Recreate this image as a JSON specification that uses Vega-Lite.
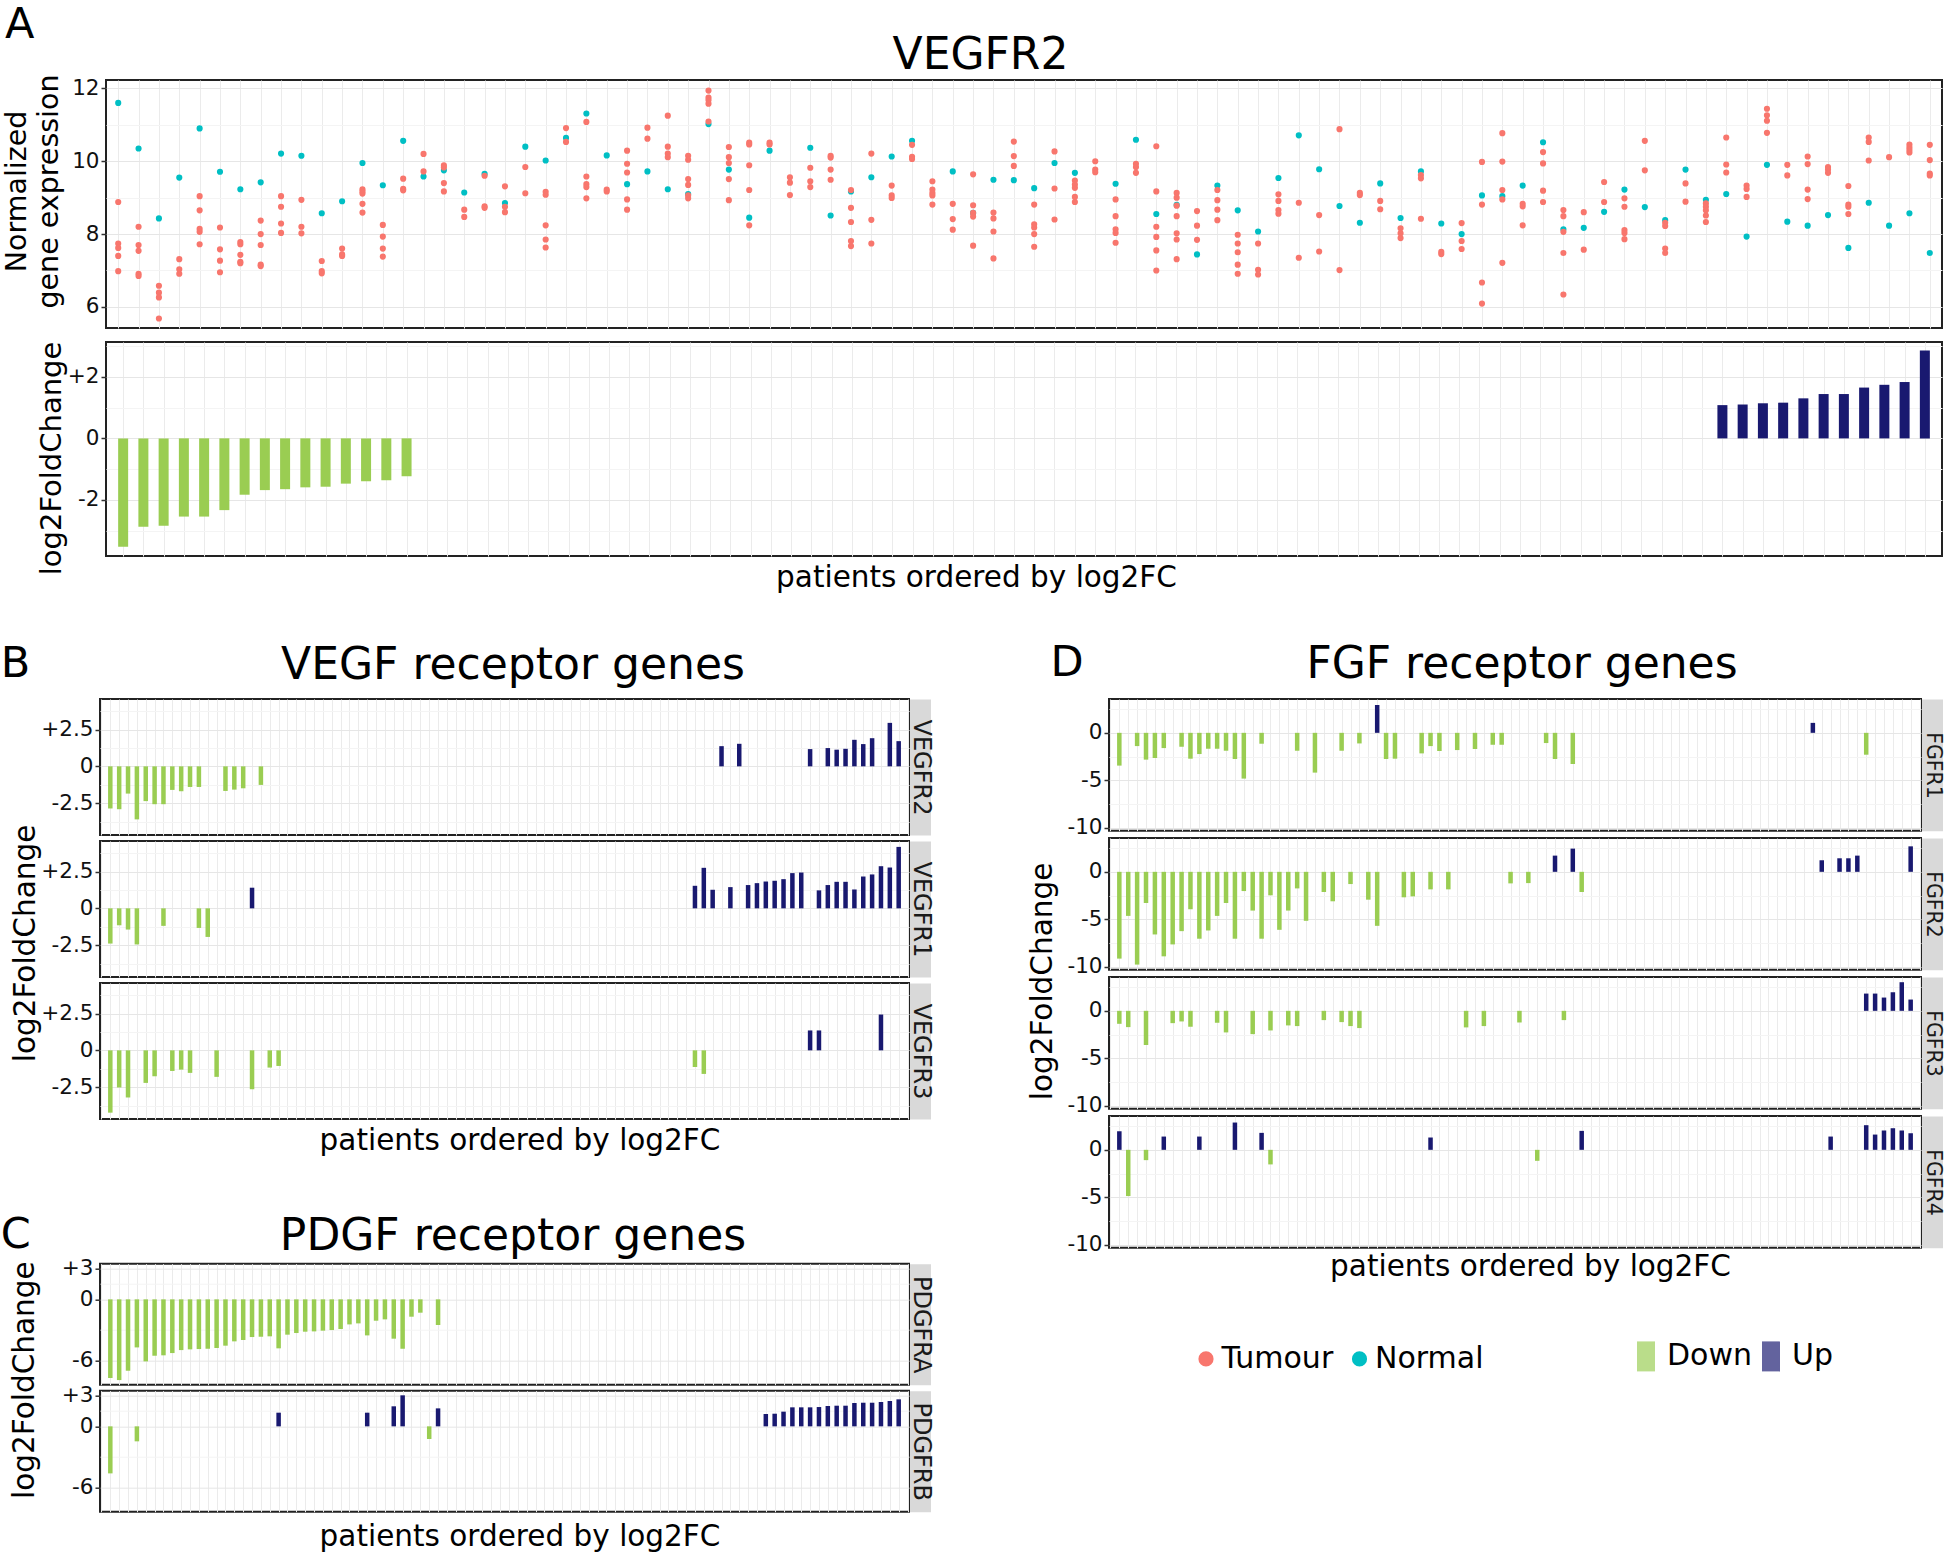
{
  "$schema": "https://vega.github.io/schema/vega-lite/v6.json",
  "padding": {"left": 0, "top": 4, "right": 0, "bottom": 0},
  "background": "white",
  "config": {
    "font": "DejaVu Sans",
    "view": {"stroke": "#222222", "strokeWidth": 2},
    "axis": {"labelFont": "DejaVu Sans", "labelFontSize": 21.5, "labelColor": "#111111", "titleFont": "DejaVu Sans", "titleFontWeight": "normal", "titleColor": "#000000", "tickColor": "#333333", "tickSize": 5, "tickWidth": 1.5, "labelPadding": 2, "domain": false, "gridWidth": 1, "labelOverlap": false, "labelBound": false},
    "title": {"font": "DejaVu Sans", "fontWeight": "normal", "color": "#000000", "baseline": "alphabetic"}
  },
  "datasets": {
    "expr": [
      {"p":1,"grp":"Normal","v":11.6},{"p":2,"grp":"Normal","v":10.35},{"p":3,"grp":"Normal","v":8.43},{"p":4,"grp":"Normal","v":9.55},{"p":5,"grp":"Normal","v":10.9},{"p":6,"grp":"Normal","v":9.71},{"p":7,"grp":"Normal","v":9.23},{"p":8,"grp":"Normal","v":9.42},{"p":9,"grp":"Normal","v":10.21},{"p":10,"grp":"Normal","v":10.15},
      {"p":11,"grp":"Normal","v":8.57},{"p":12,"grp":"Normal","v":8.9},{"p":13,"grp":"Normal","v":9.95},{"p":14,"grp":"Normal","v":9.34},{"p":15,"grp":"Normal","v":10.56},{"p":16,"grp":"Normal","v":9.58},{"p":17,"grp":"Normal","v":9.75},{"p":18,"grp":"Normal","v":9.14},{"p":19,"grp":"Normal","v":9.65},{"p":20,"grp":"Normal","v":8.85},
      {"p":21,"grp":"Normal","v":10.4},{"p":22,"grp":"Normal","v":10.02},{"p":23,"grp":"Normal","v":10.64},{"p":24,"grp":"Normal","v":11.31},{"p":25,"grp":"Normal","v":10.16},{"p":26,"grp":"Normal","v":9.37},{"p":27,"grp":"Normal","v":9.72},{"p":28,"grp":"Normal","v":9.23},{"p":29,"grp":"Normal","v":9.1},{"p":30,"grp":"Normal","v":11.02},
      {"p":31,"grp":"Normal","v":9.77},{"p":32,"grp":"Normal","v":8.45},{"p":33,"grp":"Normal","v":10.29},{"p":35,"grp":"Normal","v":10.37},{"p":36,"grp":"Normal","v":8.51},{"p":37,"grp":"Normal","v":9.17},{"p":38,"grp":"Normal","v":9.56},{"p":39,"grp":"Normal","v":10.13},{"p":40,"grp":"Normal","v":10.56},
      {"p":42,"grp":"Normal","v":9.72},{"p":43,"grp":"Normal","v":8.58},{"p":44,"grp":"Normal","v":9.49},{"p":45,"grp":"Normal","v":9.48},{"p":46,"grp":"Normal","v":9.26},{"p":47,"grp":"Normal","v":9.95},{"p":48,"grp":"Normal","v":9.68},{"p":50,"grp":"Normal","v":9.38},
      {"p":51,"grp":"Normal","v":10.59},{"p":52,"grp":"Normal","v":8.55},{"p":53,"grp":"Normal","v":8.8},{"p":54,"grp":"Normal","v":7.44},{"p":55,"grp":"Normal","v":9.33},{"p":56,"grp":"Normal","v":8.65},{"p":57,"grp":"Normal","v":8.07},{"p":58,"grp":"Normal","v":9.54},{"p":59,"grp":"Normal","v":10.71},{"p":60,"grp":"Normal","v":9.78},
      {"p":61,"grp":"Normal","v":8.77},{"p":62,"grp":"Normal","v":8.31},{"p":63,"grp":"Normal","v":9.39},{"p":64,"grp":"Normal","v":8.44},{"p":65,"grp":"Normal","v":9.72},{"p":66,"grp":"Normal","v":8.29},{"p":67,"grp":"Normal","v":8.0},{"p":68,"grp":"Normal","v":9.06},{"p":69,"grp":"Normal","v":9.04},{"p":70,"grp":"Normal","v":9.33},
      {"p":71,"grp":"Normal","v":10.52},{"p":72,"grp":"Normal","v":8.13},{"p":73,"grp":"Normal","v":8.17},{"p":74,"grp":"Normal","v":8.61},{"p":75,"grp":"Normal","v":9.22},{"p":76,"grp":"Normal","v":8.74},{"p":77,"grp":"Normal","v":8.38},{"p":78,"grp":"Normal","v":9.77},{"p":79,"grp":"Normal","v":8.94},{"p":80,"grp":"Normal","v":9.1},
      {"p":81,"grp":"Normal","v":7.93},{"p":82,"grp":"Normal","v":9.9},{"p":83,"grp":"Normal","v":8.34},{"p":84,"grp":"Normal","v":8.23},{"p":85,"grp":"Normal","v":8.52},{"p":86,"grp":"Normal","v":7.62},{"p":87,"grp":"Normal","v":8.86},{"p":88,"grp":"Normal","v":8.23},{"p":89,"grp":"Normal","v":8.57},{"p":90,"grp":"Normal","v":7.48},
      {"p":1,"grp":"Tumour","v":8.88},{"p":1,"grp":"Tumour","v":7.74},{"p":1,"grp":"Tumour","v":7.62},{"p":1,"grp":"Tumour","v":7.4},{"p":1,"grp":"Tumour","v":6.98},
      {"p":2,"grp":"Tumour","v":8.2},{"p":2,"grp":"Tumour","v":7.7},{"p":2,"grp":"Tumour","v":7.54},{"p":2,"grp":"Tumour","v":6.91},{"p":2,"grp":"Tumour","v":6.85},
      {"p":3,"grp":"Tumour","v":6.58},{"p":3,"grp":"Tumour","v":6.39},{"p":3,"grp":"Tumour","v":6.26},{"p":3,"grp":"Tumour","v":5.68},
      {"p":4,"grp":"Tumour","v":7.31},{"p":4,"grp":"Tumour","v":7.03},{"p":4,"grp":"Tumour","v":6.91},
      {"p":5,"grp":"Tumour","v":9.04},{"p":5,"grp":"Tumour","v":8.65},{"p":5,"grp":"Tumour","v":8.14},{"p":5,"grp":"Tumour","v":8.06},{"p":5,"grp":"Tumour","v":7.72},
      {"p":6,"grp":"Tumour","v":8.18},{"p":6,"grp":"Tumour","v":7.58},{"p":6,"grp":"Tumour","v":7.27},{"p":6,"grp":"Tumour","v":6.95},
      {"p":7,"grp":"Tumour","v":7.78},{"p":7,"grp":"Tumour","v":7.72},{"p":7,"grp":"Tumour","v":7.43},{"p":7,"grp":"Tumour","v":7.24},{"p":7,"grp":"Tumour","v":7.2},
      {"p":8,"grp":"Tumour","v":8.37},{"p":8,"grp":"Tumour","v":8.0},{"p":8,"grp":"Tumour","v":7.7},{"p":8,"grp":"Tumour","v":7.16},{"p":8,"grp":"Tumour","v":7.12},
      {"p":9,"grp":"Tumour","v":9.04},{"p":9,"grp":"Tumour","v":8.75},{"p":9,"grp":"Tumour","v":8.29},{"p":9,"grp":"Tumour","v":8.03},
      {"p":10,"grp":"Tumour","v":8.94},{"p":10,"grp":"Tumour","v":8.2},{"p":10,"grp":"Tumour","v":8.02},
      {"p":11,"grp":"Tumour","v":7.26},{"p":11,"grp":"Tumour","v":6.98},{"p":11,"grp":"Tumour","v":6.92},
      {"p":12,"grp":"Tumour","v":7.6},{"p":12,"grp":"Tumour","v":7.44},{"p":12,"grp":"Tumour","v":7.4},
      {"p":13,"grp":"Tumour","v":9.23},{"p":13,"grp":"Tumour","v":9.17},{"p":13,"grp":"Tumour","v":9.11},{"p":13,"grp":"Tumour","v":8.83},{"p":13,"grp":"Tumour","v":8.59},
      {"p":14,"grp":"Tumour","v":8.25},{"p":14,"grp":"Tumour","v":7.93},{"p":14,"grp":"Tumour","v":7.6},{"p":14,"grp":"Tumour","v":7.38},
      {"p":15,"grp":"Tumour","v":9.52},{"p":15,"grp":"Tumour","v":9.24},{"p":15,"grp":"Tumour","v":9.2},
      {"p":16,"grp":"Tumour","v":10.2},{"p":16,"grp":"Tumour","v":9.72},
      {"p":17,"grp":"Tumour","v":9.89},{"p":17,"grp":"Tumour","v":9.83},{"p":17,"grp":"Tumour","v":9.4},{"p":17,"grp":"Tumour","v":9.17},
      {"p":18,"grp":"Tumour","v":8.67},{"p":18,"grp":"Tumour","v":8.47},
      {"p":19,"grp":"Tumour","v":9.6},{"p":19,"grp":"Tumour","v":8.76},{"p":19,"grp":"Tumour","v":8.72},
      {"p":20,"grp":"Tumour","v":9.31},{"p":20,"grp":"Tumour","v":8.75},{"p":20,"grp":"Tumour","v":8.6},
      {"p":21,"grp":"Tumour","v":9.84},{"p":21,"grp":"Tumour","v":9.12},
      {"p":22,"grp":"Tumour","v":9.16},{"p":22,"grp":"Tumour","v":9.08},{"p":22,"grp":"Tumour","v":8.24},{"p":22,"grp":"Tumour","v":7.85},{"p":22,"grp":"Tumour","v":7.63},
      {"p":23,"grp":"Tumour","v":10.91},{"p":23,"grp":"Tumour","v":10.53},
      {"p":24,"grp":"Tumour","v":11.08},{"p":24,"grp":"Tumour","v":9.58},{"p":24,"grp":"Tumour","v":9.37},{"p":24,"grp":"Tumour","v":9.29},{"p":24,"grp":"Tumour","v":8.98},
      {"p":25,"grp":"Tumour","v":9.22},{"p":25,"grp":"Tumour","v":9.17},
      {"p":26,"grp":"Tumour","v":10.29},{"p":26,"grp":"Tumour","v":9.93},{"p":26,"grp":"Tumour","v":9.69},{"p":26,"grp":"Tumour","v":8.95},{"p":26,"grp":"Tumour","v":8.67},
      {"p":27,"grp":"Tumour","v":10.92},{"p":27,"grp":"Tumour","v":10.62},
      {"p":28,"grp":"Tumour","v":11.25},{"p":28,"grp":"Tumour","v":10.4},{"p":28,"grp":"Tumour","v":10.21},{"p":28,"grp":"Tumour","v":10.11},
      {"p":29,"grp":"Tumour","v":10.15},{"p":29,"grp":"Tumour","v":10.04},{"p":29,"grp":"Tumour","v":9.51},{"p":29,"grp":"Tumour","v":9.35},{"p":29,"grp":"Tumour","v":9.06},{"p":29,"grp":"Tumour","v":8.98},
      {"p":30,"grp":"Tumour","v":11.94},{"p":30,"grp":"Tumour","v":11.75},{"p":30,"grp":"Tumour","v":11.68},{"p":30,"grp":"Tumour","v":11.58},{"p":30,"grp":"Tumour","v":11.09},
      {"p":31,"grp":"Tumour","v":10.39},{"p":31,"grp":"Tumour","v":10.11},{"p":31,"grp":"Tumour","v":9.95},{"p":31,"grp":"Tumour","v":9.51},{"p":31,"grp":"Tumour","v":8.93},
      {"p":32,"grp":"Tumour","v":10.51},{"p":32,"grp":"Tumour","v":10.46},{"p":32,"grp":"Tumour","v":9.89},{"p":32,"grp":"Tumour","v":9.21},{"p":32,"grp":"Tumour","v":8.24},
      {"p":33,"grp":"Tumour","v":10.51},{"p":33,"grp":"Tumour","v":10.46},
      {"p":34,"grp":"Tumour","v":9.56},{"p":34,"grp":"Tumour","v":9.41},{"p":34,"grp":"Tumour","v":9.07},
      {"p":35,"grp":"Tumour","v":9.82},{"p":35,"grp":"Tumour","v":9.45},{"p":35,"grp":"Tumour","v":9.29},
      {"p":36,"grp":"Tumour","v":10.15},{"p":36,"grp":"Tumour","v":10.1},{"p":36,"grp":"Tumour","v":9.77},{"p":36,"grp":"Tumour","v":9.49},
      {"p":37,"grp":"Tumour","v":9.21},{"p":37,"grp":"Tumour","v":8.72},{"p":37,"grp":"Tumour","v":8.33},{"p":37,"grp":"Tumour","v":7.81},{"p":37,"grp":"Tumour","v":7.67},
      {"p":38,"grp":"Tumour","v":10.21},{"p":38,"grp":"Tumour","v":8.39},{"p":38,"grp":"Tumour","v":7.74},
      {"p":39,"grp":"Tumour","v":9.33},{"p":39,"grp":"Tumour","v":9.06},{"p":39,"grp":"Tumour","v":8.99},
      {"p":40,"grp":"Tumour","v":10.45},{"p":40,"grp":"Tumour","v":10.12},{"p":40,"grp":"Tumour","v":10.06},
      {"p":41,"grp":"Tumour","v":9.45},{"p":41,"grp":"Tumour","v":9.22},{"p":41,"grp":"Tumour","v":9.13},{"p":41,"grp":"Tumour","v":9.06},{"p":41,"grp":"Tumour","v":8.81},
      {"p":42,"grp":"Tumour","v":8.83},{"p":42,"grp":"Tumour","v":8.41},{"p":42,"grp":"Tumour","v":8.12},
      {"p":43,"grp":"Tumour","v":9.64},{"p":43,"grp":"Tumour","v":8.79},{"p":43,"grp":"Tumour","v":8.58},{"p":43,"grp":"Tumour","v":8.48},{"p":43,"grp":"Tumour","v":7.68},
      {"p":44,"grp":"Tumour","v":8.59},{"p":44,"grp":"Tumour","v":8.43},{"p":44,"grp":"Tumour","v":8.07},{"p":44,"grp":"Tumour","v":7.33},
      {"p":45,"grp":"Tumour","v":10.54},{"p":45,"grp":"Tumour","v":10.14},{"p":45,"grp":"Tumour","v":9.87},
      {"p":46,"grp":"Tumour","v":8.81},{"p":46,"grp":"Tumour","v":8.27},{"p":46,"grp":"Tumour","v":8.18},{"p":46,"grp":"Tumour","v":8.0},{"p":46,"grp":"Tumour","v":7.65},
      {"p":47,"grp":"Tumour","v":10.27},{"p":47,"grp":"Tumour","v":9.25},{"p":47,"grp":"Tumour","v":8.4},
      {"p":48,"grp":"Tumour","v":9.47},{"p":48,"grp":"Tumour","v":9.36},{"p":48,"grp":"Tumour","v":9.27},{"p":48,"grp":"Tumour","v":9.02},{"p":48,"grp":"Tumour","v":8.88},
      {"p":49,"grp":"Tumour","v":10.0},{"p":49,"grp":"Tumour","v":9.77},{"p":49,"grp":"Tumour","v":9.7},
      {"p":50,"grp":"Tumour","v":8.95},{"p":50,"grp":"Tumour","v":8.49},{"p":50,"grp":"Tumour","v":8.13},{"p":50,"grp":"Tumour","v":8.03},{"p":50,"grp":"Tumour","v":7.76},
      {"p":51,"grp":"Tumour","v":9.93},{"p":51,"grp":"Tumour","v":9.84},{"p":51,"grp":"Tumour","v":9.68},
      {"p":52,"grp":"Tumour","v":10.41},{"p":52,"grp":"Tumour","v":9.17},{"p":52,"grp":"Tumour","v":8.2},{"p":52,"grp":"Tumour","v":7.92},{"p":52,"grp":"Tumour","v":7.55},{"p":52,"grp":"Tumour","v":7.0},
      {"p":53,"grp":"Tumour","v":9.13},{"p":53,"grp":"Tumour","v":9.0},{"p":53,"grp":"Tumour","v":8.78},{"p":53,"grp":"Tumour","v":8.49},{"p":53,"grp":"Tumour","v":8.02},{"p":53,"grp":"Tumour","v":7.85},{"p":53,"grp":"Tumour","v":7.31},
      {"p":54,"grp":"Tumour","v":8.63},{"p":54,"grp":"Tumour","v":8.23},{"p":54,"grp":"Tumour","v":7.84},
      {"p":55,"grp":"Tumour","v":9.21},{"p":55,"grp":"Tumour","v":8.93},{"p":55,"grp":"Tumour","v":8.67},{"p":55,"grp":"Tumour","v":8.38},
      {"p":56,"grp":"Tumour","v":7.98},{"p":56,"grp":"Tumour","v":7.74},{"p":56,"grp":"Tumour","v":7.5},{"p":56,"grp":"Tumour","v":7.16},{"p":56,"grp":"Tumour","v":6.91},
      {"p":57,"grp":"Tumour","v":7.74},{"p":57,"grp":"Tumour","v":7.02},{"p":57,"grp":"Tumour","v":6.89},
      {"p":58,"grp":"Tumour","v":9.09},{"p":58,"grp":"Tumour","v":8.91},{"p":58,"grp":"Tumour","v":8.66},{"p":58,"grp":"Tumour","v":8.56},
      {"p":59,"grp":"Tumour","v":8.86},{"p":59,"grp":"Tumour","v":7.35},
      {"p":60,"grp":"Tumour","v":8.52},{"p":60,"grp":"Tumour","v":7.52},
      {"p":61,"grp":"Tumour","v":10.88},{"p":61,"grp":"Tumour","v":7.01},
      {"p":62,"grp":"Tumour","v":9.13},{"p":62,"grp":"Tumour","v":9.07},
      {"p":63,"grp":"Tumour","v":8.91},{"p":63,"grp":"Tumour","v":8.68},
      {"p":64,"grp":"Tumour","v":8.16},{"p":64,"grp":"Tumour","v":8.02},{"p":64,"grp":"Tumour","v":7.89},
      {"p":65,"grp":"Tumour","v":9.62},{"p":65,"grp":"Tumour","v":9.53},{"p":65,"grp":"Tumour","v":8.42},
      {"p":66,"grp":"Tumour","v":7.51},{"p":66,"grp":"Tumour","v":7.45},
      {"p":67,"grp":"Tumour","v":8.3},{"p":67,"grp":"Tumour","v":7.81},{"p":67,"grp":"Tumour","v":7.59},
      {"p":68,"grp":"Tumour","v":9.98},{"p":68,"grp":"Tumour","v":8.81},{"p":68,"grp":"Tumour","v":6.67},{"p":68,"grp":"Tumour","v":6.09},
      {"p":69,"grp":"Tumour","v":10.77},{"p":69,"grp":"Tumour","v":9.99},{"p":69,"grp":"Tumour","v":9.21},{"p":69,"grp":"Tumour","v":8.95},{"p":69,"grp":"Tumour","v":7.21},
      {"p":70,"grp":"Tumour","v":8.83},{"p":70,"grp":"Tumour","v":8.76},{"p":70,"grp":"Tumour","v":8.24},
      {"p":71,"grp":"Tumour","v":10.25},{"p":71,"grp":"Tumour","v":9.94},{"p":71,"grp":"Tumour","v":9.19},{"p":71,"grp":"Tumour","v":8.88},
      {"p":72,"grp":"Tumour","v":8.66},{"p":72,"grp":"Tumour","v":8.49},{"p":72,"grp":"Tumour","v":8.06},{"p":72,"grp":"Tumour","v":7.48},{"p":72,"grp":"Tumour","v":6.34},
      {"p":73,"grp":"Tumour","v":8.6},{"p":73,"grp":"Tumour","v":7.57},
      {"p":74,"grp":"Tumour","v":9.43},{"p":74,"grp":"Tumour","v":8.88},
      {"p":75,"grp":"Tumour","v":8.98},{"p":75,"grp":"Tumour","v":8.75},{"p":75,"grp":"Tumour","v":8.11},{"p":75,"grp":"Tumour","v":8.03},{"p":75,"grp":"Tumour","v":7.86},
      {"p":76,"grp":"Tumour","v":10.56},{"p":76,"grp":"Tumour","v":9.75},
      {"p":77,"grp":"Tumour","v":8.31},{"p":77,"grp":"Tumour","v":8.22},{"p":77,"grp":"Tumour","v":7.6},{"p":77,"grp":"Tumour","v":7.48},
      {"p":78,"grp":"Tumour","v":9.39},{"p":78,"grp":"Tumour","v":8.89},
      {"p":79,"grp":"Tumour","v":8.84},{"p":79,"grp":"Tumour","v":8.75},{"p":79,"grp":"Tumour","v":8.65},{"p":79,"grp":"Tumour","v":8.51},{"p":79,"grp":"Tumour","v":8.33},
      {"p":80,"grp":"Tumour","v":10.65},{"p":80,"grp":"Tumour","v":9.91},{"p":80,"grp":"Tumour","v":9.69},
      {"p":81,"grp":"Tumour","v":9.33},{"p":81,"grp":"Tumour","v":9.24},{"p":81,"grp":"Tumour","v":9.02},
      {"p":82,"grp":"Tumour","v":11.44},{"p":82,"grp":"Tumour","v":11.26},{"p":82,"grp":"Tumour","v":11.11},{"p":82,"grp":"Tumour","v":10.78},
      {"p":83,"grp":"Tumour","v":9.9},{"p":83,"grp":"Tumour","v":9.61},
      {"p":84,"grp":"Tumour","v":10.13},{"p":84,"grp":"Tumour","v":9.92},{"p":84,"grp":"Tumour","v":9.22},{"p":84,"grp":"Tumour","v":8.96},
      {"p":85,"grp":"Tumour","v":9.84},{"p":85,"grp":"Tumour","v":9.77},{"p":85,"grp":"Tumour","v":9.68},
      {"p":86,"grp":"Tumour","v":9.32},{"p":86,"grp":"Tumour","v":8.81},{"p":86,"grp":"Tumour","v":8.75},{"p":86,"grp":"Tumour","v":8.55},
      {"p":87,"grp":"Tumour","v":10.65},{"p":87,"grp":"Tumour","v":10.53},{"p":87,"grp":"Tumour","v":10.02},
      {"p":88,"grp":"Tumour","v":10.11},
      {"p":89,"grp":"Tumour","v":10.46},{"p":89,"grp":"Tumour","v":10.38},{"p":89,"grp":"Tumour","v":10.31},{"p":89,"grp":"Tumour","v":10.24},
      {"p":90,"grp":"Tumour","v":10.45},{"p":90,"grp":"Tumour","v":10.03},{"p":90,"grp":"Tumour","v":9.66},{"p":90,"grp":"Tumour","v":9.61}
    ],
    "bars": [
      {"g":"A","p":1,"v":-3.52},{"g":"A","p":2,"v":-2.87},{"g":"A","p":3,"v":-2.84},{"g":"A","p":4,"v":-2.54},{"g":"A","p":5,"v":-2.54},{"g":"A","p":6,"v":-2.33},{"g":"A","p":7,"v":-1.83},{"g":"A","p":8,"v":-1.68},{"g":"A","p":9,"v":-1.65},{"g":"A","p":10,"v":-1.59},{"g":"A","p":11,"v":-1.57},{"g":"A","p":12,"v":-1.47},{"g":"A","p":13,"v":-1.39},{"g":"A","p":14,"v":-1.36},{"g":"A","p":15,"v":-1.23},
      {"g":"A","p":80,"v":1.08},{"g":"A","p":81,"v":1.1},{"g":"A","p":82,"v":1.14},{"g":"A","p":83,"v":1.16},{"g":"A","p":84,"v":1.3},{"g":"A","p":85,"v":1.44},{"g":"A","p":86,"v":1.44},{"g":"A","p":87,"v":1.65},{"g":"A","p":88,"v":1.74},{"g":"A","p":89,"v":1.83},{"g":"A","p":90,"v":2.85},
      {"g":"VEGFR2","p":1,"v":-2.86},{"g":"VEGFR2","p":2,"v":-2.91},{"g":"VEGFR2","p":3,"v":-1.85},{"g":"VEGFR2","p":4,"v":-3.6},{"g":"VEGFR2","p":5,"v":-2.36},{"g":"VEGFR2","p":6,"v":-2.57},{"g":"VEGFR2","p":7,"v":-2.57},{"g":"VEGFR2","p":8,"v":-1.6},{"g":"VEGFR2","p":9,"v":-1.69},{"g":"VEGFR2","p":10,"v":-1.4},{"g":"VEGFR2","p":11,"v":-1.4},{"g":"VEGFR2","p":14,"v":-1.67},{"g":"VEGFR2","p":15,"v":-1.58},{"g":"VEGFR2","p":16,"v":-1.49},{"g":"VEGFR2","p":18,"v":-1.26},
      {"g":"VEGFR2","p":70,"v":1.37},{"g":"VEGFR2","p":72,"v":1.53},{"g":"VEGFR2","p":80,"v":1.17},{"g":"VEGFR2","p":82,"v":1.24},{"g":"VEGFR2","p":83,"v":1.13},{"g":"VEGFR2","p":84,"v":1.19},{"g":"VEGFR2","p":85,"v":1.8},{"g":"VEGFR2","p":86,"v":1.51},{"g":"VEGFR2","p":87,"v":1.91},{"g":"VEGFR2","p":89,"v":2.95},{"g":"VEGFR2","p":90,"v":1.71},
      {"g":"VEGFR1","p":1,"v":-2.39},{"g":"VEGFR1","p":2,"v":-1.15},{"g":"VEGFR1","p":3,"v":-1.44},{"g":"VEGFR1","p":4,"v":-2.45},{"g":"VEGFR1","p":7,"v":-1.19},{"g":"VEGFR1","p":11,"v":-1.33},{"g":"VEGFR1","p":12,"v":-1.94},{"g":"VEGFR1","p":17,"v":1.4},
      {"g":"VEGFR1","p":67,"v":1.53},{"g":"VEGFR1","p":68,"v":2.75},{"g":"VEGFR1","p":69,"v":1.26},{"g":"VEGFR1","p":71,"v":1.44},{"g":"VEGFR1","p":73,"v":1.58},{"g":"VEGFR1","p":74,"v":1.71},{"g":"VEGFR1","p":75,"v":1.82},{"g":"VEGFR1","p":76,"v":1.87},{"g":"VEGFR1","p":77,"v":1.98},{"g":"VEGFR1","p":78,"v":2.39},{"g":"VEGFR1","p":79,"v":2.43},
      {"g":"VEGFR1","p":81,"v":1.22},{"g":"VEGFR1","p":82,"v":1.58},{"g":"VEGFR1","p":83,"v":1.8},{"g":"VEGFR1","p":84,"v":1.8},{"g":"VEGFR1","p":85,"v":1.28},{"g":"VEGFR1","p":86,"v":2.16},{"g":"VEGFR1","p":87,"v":2.3},{"g":"VEGFR1","p":88,"v":2.86},{"g":"VEGFR1","p":89,"v":2.77},{"g":"VEGFR1","p":90,"v":4.17},
      {"g":"VEGFR3","p":1,"v":-4.23},{"g":"VEGFR3","p":2,"v":-2.52},{"g":"VEGFR3","p":3,"v":-3.2},{"g":"VEGFR3","p":5,"v":-2.21},{"g":"VEGFR3","p":6,"v":-1.76},{"g":"VEGFR3","p":8,"v":-1.4},{"g":"VEGFR3","p":9,"v":-1.31},{"g":"VEGFR3","p":10,"v":-1.53},{"g":"VEGFR3","p":13,"v":-1.8},{"g":"VEGFR3","p":17,"v":-2.64},{"g":"VEGFR3","p":19,"v":-1.17},{"g":"VEGFR3","p":20,"v":-1.06},{"g":"VEGFR3","p":67,"v":-1.13},{"g":"VEGFR3","p":68,"v":-1.6},
      {"g":"VEGFR3","p":80,"v":1.35},{"g":"VEGFR3","p":81,"v":1.35},{"g":"VEGFR3","p":88,"v":2.43},
      {"g":"PDGFRA","p":1,"v":-7.66},{"g":"PDGFRA","p":2,"v":-7.86},{"g":"PDGFRA","p":3,"v":-6.95},{"g":"PDGFRA","p":4,"v":-4.68},{"g":"PDGFRA","p":5,"v":-6.04},{"g":"PDGFRA","p":6,"v":-5.49},{"g":"PDGFRA","p":7,"v":-5.45},{"g":"PDGFRA","p":8,"v":-5.23},{"g":"PDGFRA","p":9,"v":-4.94},{"g":"PDGFRA","p":10,"v":-4.87},
      {"g":"PDGFRA","p":11,"v":-4.84},{"g":"PDGFRA","p":12,"v":-4.81},{"g":"PDGFRA","p":13,"v":-4.74},{"g":"PDGFRA","p":14,"v":-4.51},{"g":"PDGFRA","p":15,"v":-4.09},{"g":"PDGFRA","p":16,"v":-3.96},{"g":"PDGFRA","p":17,"v":-3.67},{"g":"PDGFRA","p":18,"v":-3.64},{"g":"PDGFRA","p":19,"v":-3.6},{"g":"PDGFRA","p":20,"v":-4.77},
      {"g":"PDGFRA","p":21,"v":-3.44},{"g":"PDGFRA","p":22,"v":-3.28},{"g":"PDGFRA","p":23,"v":-3.15},{"g":"PDGFRA","p":24,"v":-3.12},{"g":"PDGFRA","p":25,"v":-3.05},{"g":"PDGFRA","p":26,"v":-2.99},{"g":"PDGFRA","p":27,"v":-2.89},{"g":"PDGFRA","p":28,"v":-2.44},{"g":"PDGFRA","p":29,"v":-2.34},{"g":"PDGFRA","p":30,"v":-3.51},
      {"g":"PDGFRA","p":31,"v":-2.08},{"g":"PDGFRA","p":32,"v":-1.95},{"g":"PDGFRA","p":33,"v":-3.83},{"g":"PDGFRA","p":34,"v":-4.81},{"g":"PDGFRA","p":35,"v":-1.69},{"g":"PDGFRA","p":36,"v":-1.3},{"g":"PDGFRA","p":38,"v":-2.5},
      {"g":"PDGFRB","p":1,"v":-4.58},{"g":"PDGFRB","p":4,"v":-1.46},{"g":"PDGFRB","p":37,"v":-1.23},{"g":"PDGFRB","p":20,"v":1.33},{"g":"PDGFRB","p":30,"v":1.33},{"g":"PDGFRB","p":33,"v":1.95},{"g":"PDGFRB","p":34,"v":3.02},{"g":"PDGFRB","p":38,"v":1.75},
      {"g":"PDGFRB","p":75,"v":1.2},{"g":"PDGFRB","p":76,"v":1.23},{"g":"PDGFRB","p":77,"v":1.43},{"g":"PDGFRB","p":78,"v":1.85},{"g":"PDGFRB","p":79,"v":1.85},{"g":"PDGFRB","p":80,"v":1.85},{"g":"PDGFRB","p":81,"v":1.88},{"g":"PDGFRB","p":82,"v":1.98},{"g":"PDGFRB","p":83,"v":2.01},{"g":"PDGFRB","p":84,"v":2.01},{"g":"PDGFRB","p":85,"v":2.27},{"g":"PDGFRB","p":86,"v":2.3},{"g":"PDGFRB","p":87,"v":2.3},{"g":"PDGFRB","p":88,"v":2.37},{"g":"PDGFRB","p":89,"v":2.47},{"g":"PDGFRB","p":90,"v":2.63},
      {"g":"FGFR1","p":1,"v":-3.46},{"g":"FGFR1","p":3,"v":-1.4},{"g":"FGFR1","p":4,"v":-2.83},{"g":"FGFR1","p":5,"v":-2.66},{"g":"FGFR1","p":6,"v":-1.61},{"g":"FGFR1","p":8,"v":-1.47},{"g":"FGFR1","p":9,"v":-2.73},{"g":"FGFR1","p":10,"v":-2.24},{"g":"FGFR1","p":11,"v":-1.68},{"g":"FGFR1","p":12,"v":-1.68},{"g":"FGFR1","p":13,"v":-1.89},{"g":"FGFR1","p":14,"v":-2.76},{"g":"FGFR1","p":15,"v":-4.83},{"g":"FGFR1","p":17,"v":-1.15},{"g":"FGFR1","p":21,"v":-1.89},{"g":"FGFR1","p":23,"v":-4.2},{"g":"FGFR1","p":26,"v":-1.89},{"g":"FGFR1","p":28,"v":-1.12},{"g":"FGFR1","p":30,"v":2.94},{"g":"FGFR1","p":31,"v":-2.76},{"g":"FGFR1","p":32,"v":-2.73},{"g":"FGFR1","p":35,"v":-2.17},{"g":"FGFR1","p":36,"v":-1.4},{"g":"FGFR1","p":37,"v":-1.92},{"g":"FGFR1","p":39,"v":-1.82},{"g":"FGFR1","p":41,"v":-1.71},{"g":"FGFR1","p":43,"v":-1.26},{"g":"FGFR1","p":44,"v":-1.26},{"g":"FGFR1","p":49,"v":-1.08},{"g":"FGFR1","p":50,"v":-2.76},{"g":"FGFR1","p":52,"v":-3.29},{"g":"FGFR1","p":79,"v":1.05},{"g":"FGFR1","p":85,"v":-2.31},
      {"g":"FGFR2","p":1,"v":-9.16},{"g":"FGFR2","p":2,"v":-4.65},{"g":"FGFR2","p":3,"v":-9.79},{"g":"FGFR2","p":4,"v":-3.29},{"g":"FGFR2","p":5,"v":-6.61},{"g":"FGFR2","p":6,"v":-8.92},{"g":"FGFR2","p":7,"v":-7.66},{"g":"FGFR2","p":8,"v":-6.26},{"g":"FGFR2","p":9,"v":-3.95},{"g":"FGFR2","p":10,"v":-7.06},{"g":"FGFR2","p":11,"v":-6.19},{"g":"FGFR2","p":12,"v":-4.65},{"g":"FGFR2","p":13,"v":-3.29},{"g":"FGFR2","p":14,"v":-7.06},{"g":"FGFR2","p":15,"v":-2.03},{"g":"FGFR2","p":16,"v":-4.09},{"g":"FGFR2","p":17,"v":-7.06},{"g":"FGFR2","p":18,"v":-2.48},{"g":"FGFR2","p":19,"v":-6.12},{"g":"FGFR2","p":20,"v":-4.09},{"g":"FGFR2","p":21,"v":-1.75},{"g":"FGFR2","p":22,"v":-5.17},{"g":"FGFR2","p":24,"v":-2.13},{"g":"FGFR2","p":25,"v":-3.11},{"g":"FGFR2","p":27,"v":-1.29},{"g":"FGFR2","p":29,"v":-2.94},{"g":"FGFR2","p":30,"v":-5.7},{"g":"FGFR2","p":33,"v":-2.69},{"g":"FGFR2","p":34,"v":-2.59},{"g":"FGFR2","p":36,"v":-1.85},{"g":"FGFR2","p":38,"v":-1.85},{"g":"FGFR2","p":45,"v":-1.22},{"g":"FGFR2","p":47,"v":-1.19},{"g":"FGFR2","p":50,"v":1.71},{"g":"FGFR2","p":52,"v":2.45},{"g":"FGFR2","p":53,"v":-2.13},{"g":"FGFR2","p":80,"v":1.22},{"g":"FGFR2","p":82,"v":1.43},{"g":"FGFR2","p":83,"v":1.43},{"g":"FGFR2","p":84,"v":1.71},{"g":"FGFR2","p":90,"v":2.69},
      {"g":"FGFR3","p":1,"v":-1.37},{"g":"FGFR3","p":2,"v":-1.72},{"g":"FGFR3","p":4,"v":-3.61},{"g":"FGFR3","p":7,"v":-1.3},{"g":"FGFR3","p":8,"v":-1.12},{"g":"FGFR3","p":9,"v":-1.68},{"g":"FGFR3","p":12,"v":-1.26},{"g":"FGFR3","p":13,"v":-2.28},{"g":"FGFR3","p":16,"v":-2.46},{"g":"FGFR3","p":18,"v":-2.07},{"g":"FGFR3","p":20,"v":-1.54},{"g":"FGFR3","p":21,"v":-1.61},{"g":"FGFR3","p":24,"v":-0.98},{"g":"FGFR3","p":26,"v":-1.19},{"g":"FGFR3","p":27,"v":-1.61},{"g":"FGFR3","p":28,"v":-1.82},{"g":"FGFR3","p":40,"v":-1.75},{"g":"FGFR3","p":42,"v":-1.61},{"g":"FGFR3","p":46,"v":-1.23},{"g":"FGFR3","p":51,"v":-0.98},{"g":"FGFR3","p":85,"v":1.82},{"g":"FGFR3","p":86,"v":1.82},{"g":"FGFR3","p":87,"v":1.4},{"g":"FGFR3","p":88,"v":1.96},{"g":"FGFR3","p":89,"v":3.02},{"g":"FGFR3","p":90,"v":1.19},
      {"g":"FGFR4","p":1,"v":1.96},{"g":"FGFR4","p":2,"v":-4.88},{"g":"FGFR4","p":4,"v":-1.09},{"g":"FGFR4","p":6,"v":1.4},{"g":"FGFR4","p":10,"v":1.4},{"g":"FGFR4","p":14,"v":2.88},{"g":"FGFR4","p":17,"v":1.79},{"g":"FGFR4","p":18,"v":-1.54},{"g":"FGFR4","p":36,"v":1.3},{"g":"FGFR4","p":48,"v":-1.16},{"g":"FGFR4","p":53,"v":2.0},{"g":"FGFR4","p":81,"v":1.4},{"g":"FGFR4","p":85,"v":2.6},{"g":"FGFR4","p":86,"v":1.61},{"g":"FGFR4","p":87,"v":2.04},{"g":"FGFR4","p":88,"v":2.28},{"g":"FGFR4","p":89,"v":2.04},{"g":"FGFR4","p":90,"v":1.75}
    ],
    "leg1": [{"grp": "Tumour"}, {"grp": "Normal"}],
    "leg2": [{"dir": "Down"}, {"dir": "Up"}]
  },
  "resolve": {"scale": {"color": "independent"}, "legend": {"color": "independent"}},
  "spacing": 49,
  "center": true,
  "vconcat": [
    {
      "title": {"text": "A", "anchor": "start", "frame": "group", "fontSize": 43, "offset": 0, "dx": -101, "dy": 13.7},
      "bounds": "flush",
      "spacing": 14,
      "resolve": {"scale": {"color": "independent"}, "legend": {"color": "independent"}},
      "vconcat": [
        {
          "width": 1836, "height": 248,
          "title": {"text": "VEGFR2", "anchor": "middle", "fontSize": 44, "offset": -4.5, "dx": -43.5},
          "data": {"name": "expr"},
          "mark": {"type": "point", "filled": true, "size": 38, "opacity": 1},
          "encoding": {
            "x": {"field": "p", "type": "quantitative", "scale": {"domain": [0.4, 90.6], "nice": false, "zero": false},
                  "axis": {"grid": true, "tickCount": 90, "labels": false, "ticks": false, "domain": false, "gridColor": "#ebebeb", "title": null}},
            "y": {"field": "v", "type": "quantitative", "scale": {"domain": [5.42, 12.23], "nice": false, "zero": false},
                  "axis": {"values": [6, 7, 8, 9, 10, 11, 12], "labelExpr": "datum.value % 2 == 0 ? toString(datum.value) : ''",
                           "tickOpacity": {"condition": {"test": "datum.value % 2 != 0", "value": 0}, "value": 1},
                           "gridColor": {"condition": {"test": "datum.value % 2 != 0", "value": "#f4f4f4"}, "value": "#e6e6e6"},
                           "title": ["Normalized", "gene expression"], "titleFontSize": 28.5, "titleLineHeight": 32, "titleAngle": -90,
                           "titleX": -90, "titleY": 111, "titleAlign": "center", "titleBaseline": "middle"}},
            "color": {"field": "grp", "type": "nominal", "scale": {"domain": ["Tumour", "Normal"], "range": ["#F8766D", "#00BFC4"]}, "legend": null}
          }
        },
        {
          "width": 1836, "height": 214,
          "data": {"name": "bars"},
          "transform": [{"filter": "datum.g === 'A'"}],
          "mark": {"type": "bar", "size": 10, "orient": "vertical"},
          "encoding": {
            "x": {"field": "p", "type": "quantitative", "scale": {"domain": [0.4, 90.6], "nice": false, "zero": false},
                  "axis": {"grid": true, "tickCount": 90, "labels": false, "ticks": false, "domain": false, "gridColor": "#ebebeb",
                           "title": "patients ordered by log2FC", "titleFontSize": 29.5, "titleX": 870, "titleY": 30.5, "titleAlign": "center", "titleBaseline": "alphabetic"}},
            "y": {"field": "v", "type": "quantitative", "stack": null, "scale": {"domain": [-3.82, 3.13], "nice": false, "zero": false},
                  "axis": {"values": [-3, -2, -1, 0, 1, 2, 3], "labelExpr": "abs(datum.value) % 2 == 0 ? (datum.value > 0 ? '+' : '') + toString(datum.value) : ''",
                           "tickOpacity": {"condition": {"test": "abs(datum.value) % 2 != 0", "value": 0}, "value": 1},
                           "gridColor": {"condition": {"test": "abs(datum.value) % 2 != 0", "value": "#f4f4f4"}, "value": "#e6e6e6"},
                           "title": "log2FoldChange", "titleFontSize": 29, "titleAngle": -90, "titleX": -55, "titleY": 116, "titleAlign": "center", "titleBaseline": "middle"}},
            "color": {"condition": {"test": "datum.v > 0", "value": "#191970"}, "value": "#9acd52"}
          }
        }
      ]
    },
    {
      "spacing": 92,
      "resolve": {"scale": {"color": "independent"}, "legend": {"color": "independent"}},
      "hconcat": [
        {
          "spacing": 56.7,
          "resolve": {"scale": {"color": "independent"}, "legend": {"color": "independent"}},
          "vconcat": [
            {
              "title": {"text": "B", "anchor": "start", "frame": "group", "fontSize": 43, "offset": 0, "dx": -99.2, "dy": 43},
              "bounds": "flush",
              "spacing": 6,
              "vconcat": [
                {
                  "width": 809, "height": 136,
                  "title": {"text": "VEGF receptor genes", "anchor": "middle", "fontSize": 44, "offset": 11, "dx": 8.5},
                  "data": {"name": "bars"},
                  "transform": [{"filter": "datum.g === 'VEGFR2'"}],
                  "encoding": {"x": {"field": "p", "type": "quantitative", "scale": {"domain": [0.4, 90.6], "nice": false, "zero": false}, "axis": {"grid": true, "tickCount": 90, "labels": false, "ticks": false, "domain": false, "gridColor": "#ebebeb", "title": null}}},
                  "layer": [
                    {"mark": {"type": "bar", "size": 4.5, "orient": "vertical"},
                     "encoding": {
                       "y": {"field": "v", "type": "quantitative", "stack": null, "scale": {"domain": [-4.66, 4.57], "nice": false, "zero": false},
                             "axis": {"values": [-3.75, -2.5, -1.25, 0, 1.25, 2.5, 3.75], "labelExpr": "abs(datum.value) % 2.5 == 0 ? (datum.value > 0 ? '+' : '') + toString(datum.value) : ''",
                                      "tickOpacity": {"condition": {"test": "abs(datum.value) % 2.5 != 0", "value": 0}, "value": 1},
                                      "gridColor": {"condition": {"test": "abs(datum.value) % 2.5 != 0", "value": "#f4f4f4"}, "value": "#e6e6e6"}, "title": null}},
                       "color": {"condition": {"test": "datum.v > 0", "value": "#191970"}, "value": "#9acd52"}}},
                    {"mark": {"type": "bar", "size": 1, "opacity": 0, "orient": "vertical"},
                     "encoding": {"y": {"field": "v", "type": "quantitative", "stack": null, "scale": {"domain": [-4.66, 4.57], "nice": false, "zero": false},
                       "axis": {"orient": "right", "labels": false, "ticks": false, "grid": false, "domain": true, "domainColor": "#d9d9d9", "domainWidth": 21, "offset": 11,
                                "title": "VEGFR2", "titleAngle": 90, "titleFontSize": 24, "titleColor": "#1a1a1a", "titleX": 0, "titleY": 68, "titleAlign": "center", "titleBaseline": "middle"}}}}
                  ],
                  "resolve": {"axis": {"y": "independent"}}
                },
                {
                  "width": 809, "height": 136,
                  "data": {"name": "bars"},
                  "transform": [{"filter": "datum.g === 'VEGFR1'"}],
                  "encoding": {"x": {"field": "p", "type": "quantitative", "scale": {"domain": [0.4, 90.6], "nice": false, "zero": false}, "axis": {"grid": true, "tickCount": 90, "labels": false, "ticks": false, "domain": false, "gridColor": "#ebebeb", "title": null}}},
                  "layer": [
                    {"mark": {"type": "bar", "size": 4.5, "orient": "vertical"},
                     "encoding": {
                       "y": {"field": "v", "type": "quantitative", "stack": null, "scale": {"domain": [-4.66, 4.57], "nice": false, "zero": false},
                             "axis": {"values": [-3.75, -2.5, -1.25, 0, 1.25, 2.5, 3.75], "labelExpr": "abs(datum.value) % 2.5 == 0 ? (datum.value > 0 ? '+' : '') + toString(datum.value) : ''",
                                      "tickOpacity": {"condition": {"test": "abs(datum.value) % 2.5 != 0", "value": 0}, "value": 1},
                                      "gridColor": {"condition": {"test": "abs(datum.value) % 2.5 != 0", "value": "#f4f4f4"}, "value": "#e6e6e6"},
                                      "title": "log2FoldChange", "titleFontSize": 29.5, "titleAngle": -90, "titleX": -74.5, "titleY": 102, "titleAlign": "center", "titleBaseline": "middle"}},
                       "color": {"condition": {"test": "datum.v > 0", "value": "#191970"}, "value": "#9acd52"}}},
                    {"mark": {"type": "bar", "size": 1, "opacity": 0, "orient": "vertical"},
                     "encoding": {"y": {"field": "v", "type": "quantitative", "stack": null, "scale": {"domain": [-4.66, 4.57], "nice": false, "zero": false},
                       "axis": {"orient": "right", "labels": false, "ticks": false, "grid": false, "domain": true, "domainColor": "#d9d9d9", "domainWidth": 21, "offset": 11,
                                "title": "VEGFR1", "titleAngle": 90, "titleFontSize": 24, "titleColor": "#1a1a1a", "titleX": 0, "titleY": 68, "titleAlign": "center", "titleBaseline": "middle"}}}}
                  ],
                  "resolve": {"axis": {"y": "independent"}}
                },
                {
                  "width": 809, "height": 136,
                  "data": {"name": "bars"},
                  "transform": [{"filter": "datum.g === 'VEGFR3'"}],
                  "encoding": {"x": {"field": "p", "type": "quantitative", "scale": {"domain": [0.4, 90.6], "nice": false, "zero": false}, "axis": {"grid": true, "tickCount": 90, "labels": false, "ticks": false, "domain": false, "gridColor": "#ebebeb", "title": "patients ordered by log2FC", "titleFontSize": 29.5, "titleX": 419.5, "titleY": 30, "titleAlign": "center", "titleBaseline": "alphabetic"}}},
                  "layer": [
                    {"mark": {"type": "bar", "size": 4.5, "orient": "vertical"},
                     "encoding": {
                       "y": {"field": "v", "type": "quantitative", "stack": null, "scale": {"domain": [-4.66, 4.57], "nice": false, "zero": false},
                             "axis": {"values": [-3.75, -2.5, -1.25, 0, 1.25, 2.5, 3.75], "labelExpr": "abs(datum.value) % 2.5 == 0 ? (datum.value > 0 ? '+' : '') + toString(datum.value) : ''",
                                      "tickOpacity": {"condition": {"test": "abs(datum.value) % 2.5 != 0", "value": 0}, "value": 1},
                                      "gridColor": {"condition": {"test": "abs(datum.value) % 2.5 != 0", "value": "#f4f4f4"}, "value": "#e6e6e6"}, "title": null}},
                       "color": {"condition": {"test": "datum.v > 0", "value": "#191970"}, "value": "#9acd52"}}},
                    {"mark": {"type": "bar", "size": 1, "opacity": 0, "orient": "vertical"},
                     "encoding": {"y": {"field": "v", "type": "quantitative", "stack": null, "scale": {"domain": [-4.66, 4.57], "nice": false, "zero": false},
                       "axis": {"orient": "right", "labels": false, "ticks": false, "grid": false, "domain": true, "domainColor": "#d9d9d9", "domainWidth": 21, "offset": 11,
                                "title": "VEGFR3", "titleAngle": 90, "titleFontSize": 24, "titleColor": "#1a1a1a", "titleX": 0, "titleY": 68, "titleAlign": "center", "titleBaseline": "middle"}}}}
                  ],
                  "resolve": {"axis": {"y": "independent"}}
                }
              ]
            },
            {
              "title": {"text": "C", "anchor": "start", "frame": "group", "fontSize": 43, "offset": 0, "dx": -99.2, "dy": 43},
              "bounds": "flush",
              "spacing": 6,
              "vconcat": [
                {
                  "width": 809, "height": 121,
                  "title": {"text": "PDGF receptor genes", "anchor": "middle", "fontSize": 44, "offset": -1, "dx": 8.5},
                  "data": {"name": "bars"},
                  "transform": [{"filter": "datum.g === 'PDGFRA'"}],
                  "encoding": {"x": {"field": "p", "type": "quantitative", "scale": {"domain": [0.4, 90.6], "nice": false, "zero": false}, "axis": {"grid": true, "tickCount": 90, "labels": false, "ticks": false, "domain": false, "gridColor": "#ebebeb", "title": null}}},
                  "layer": [
                    {"mark": {"type": "bar", "size": 4.5, "orient": "vertical"},
                     "encoding": {
                       "y": {"field": "v", "type": "quantitative", "stack": null, "scale": {"domain": [-8.31, 3.47], "nice": false, "zero": false},
                             "axis": {"values": [-6, -3, 0, 1.5, 3], "labelExpr": "(datum.value == -3 || datum.value == 1.5) ? '' : (datum.value > 0 ? '+' : '') + toString(datum.value)",
                                      "tickOpacity": {"condition": {"test": "datum.value == -3 || datum.value == 1.5", "value": 0}, "value": 1},
                                      "gridColor": {"condition": {"test": "datum.value == -3 || datum.value == 1.5", "value": "#f4f4f4"}, "value": "#e6e6e6"},
                                      "title": "log2FoldChange", "titleFontSize": 29.5, "titleAngle": -90, "titleX": -76, "titleY": 116, "titleAlign": "center", "titleBaseline": "middle"}},
                       "color": {"condition": {"test": "datum.v > 0", "value": "#191970"}, "value": "#9acd52"}}},
                    {"mark": {"type": "bar", "size": 1, "opacity": 0, "orient": "vertical"},
                     "encoding": {"y": {"field": "v", "type": "quantitative", "stack": null, "scale": {"domain": [-8.31, 3.47], "nice": false, "zero": false},
                       "axis": {"orient": "right", "labels": false, "ticks": false, "grid": false, "domain": true, "domainColor": "#d9d9d9", "domainWidth": 21, "offset": 11,
                                "title": "PDGFRA", "titleAngle": 90, "titleFontSize": 24, "titleColor": "#1a1a1a", "titleX": 0, "titleY": 60.5, "titleAlign": "center", "titleBaseline": "middle"}}}}
                  ],
                  "resolve": {"axis": {"y": "independent"}}
                },
                {
                  "width": 809, "height": 121,
                  "data": {"name": "bars"},
                  "transform": [{"filter": "datum.g === 'PDGFRB'"}],
                  "encoding": {"x": {"field": "p", "type": "quantitative", "scale": {"domain": [0.4, 90.6], "nice": false, "zero": false}, "axis": {"grid": true, "tickCount": 90, "labels": false, "ticks": false, "domain": false, "gridColor": "#ebebeb", "title": "patients ordered by log2FC", "titleFontSize": 29.5, "titleX": 419.5, "titleY": 34, "titleAlign": "center", "titleBaseline": "alphabetic"}}},
                  "layer": [
                    {"mark": {"type": "bar", "size": 4.5, "orient": "vertical"},
                     "encoding": {
                       "y": {"field": "v", "type": "quantitative", "stack": null, "scale": {"domain": [-8.31, 3.47], "nice": false, "zero": false},
                             "axis": {"values": [-6, -3, 0, 1.5, 3], "labelExpr": "(datum.value == -3 || datum.value == 1.5) ? '' : (datum.value > 0 ? '+' : '') + toString(datum.value)",
                                      "tickOpacity": {"condition": {"test": "datum.value == -3 || datum.value == 1.5", "value": 0}, "value": 1},
                                      "gridColor": {"condition": {"test": "datum.value == -3 || datum.value == 1.5", "value": "#f4f4f4"}, "value": "#e6e6e6"}, "title": null}},
                       "color": {"condition": {"test": "datum.v > 0", "value": "#191970"}, "value": "#9acd52"}}},
                    {"mark": {"type": "bar", "size": 1, "opacity": 0, "orient": "vertical"},
                     "encoding": {"y": {"field": "v", "type": "quantitative", "stack": null, "scale": {"domain": [-8.31, 3.47], "nice": false, "zero": false},
                       "axis": {"orient": "right", "labels": false, "ticks": false, "grid": false, "domain": true, "domainColor": "#d9d9d9", "domainWidth": 21, "offset": 11,
                                "title": "PDGFRB", "titleAngle": 90, "titleFontSize": 24, "titleColor": "#1a1a1a", "titleX": 0, "titleY": 60.5, "titleAlign": "center", "titleBaseline": "middle"}}}}
                  ],
                  "resolve": {"axis": {"y": "independent"}}
                }
              ]
            }
          ]
        },
        {
          "title": {"text": "D", "anchor": "start", "frame": "group", "fontSize": 43, "offset": 0, "dx": -58.5, "dy": 43},
          "bounds": "flush",
          "spacing": 7,
          "resolve": {"scale": {"color": "independent"}, "legend": {"color": "independent"}},
          "vconcat": [
            {
              "width": 812, "height": 131.7,
              "title": {"text": "FGF receptor genes", "anchor": "middle", "fontSize": 44, "offset": 11, "dx": 7},
              "data": {"name": "bars"},
              "transform": [{"filter": "datum.g === 'FGFR1'"}],
              "encoding": {"x": {"field": "p", "type": "quantitative", "scale": {"domain": [0.4, 90.6], "nice": false, "zero": false}, "axis": {"grid": true, "tickCount": 90, "labels": false, "ticks": false, "domain": false, "gridColor": "#ebebeb", "title": null}}},
              "layer": [
                {"mark": {"type": "bar", "size": 4.5, "orient": "vertical"},
                 "encoding": {
                   "y": {"field": "v", "type": "quantitative", "stack": null, "scale": {"domain": [-10.33, 3.57], "nice": false, "zero": false},
                         "axis": {"values": [-10, -7.5, -5, -2.5, 0, 2.5], "labelExpr": "abs(datum.value) % 5 == 0 ? toString(datum.value) : ''",
                                  "tickOpacity": {"condition": {"test": "abs(datum.value) % 5 != 0", "value": 0}, "value": 1},
                                  "gridColor": {"condition": {"test": "abs(datum.value) % 5 != 0", "value": "#f4f4f4"}, "value": "#e6e6e6"}, "title": null}},
                   "color": {"condition": {"test": "datum.v > 0", "value": "#191970"}, "value": "#9acd52"}}},
                {"mark": {"type": "bar", "size": 1, "opacity": 0, "orient": "vertical"},
                 "encoding": {"y": {"field": "v", "type": "quantitative", "stack": null, "scale": {"domain": [-10.33, 3.57], "nice": false, "zero": false},
                   "axis": {"orient": "right", "labels": false, "ticks": false, "grid": false, "domain": true, "domainColor": "#d9d9d9", "domainWidth": 21, "offset": 11,
                            "title": "FGFR1", "titleAngle": 90, "titleFontSize": 20.5, "titleColor": "#1a1a1a", "titleX": 0, "titleY": 66, "titleAlign": "center", "titleBaseline": "middle"}}}}
              ],
              "resolve": {"axis": {"y": "independent"}}
            },
            {
              "width": 812, "height": 131.7,
              "data": {"name": "bars"},
              "transform": [{"filter": "datum.g === 'FGFR2'"}],
              "encoding": {"x": {"field": "p", "type": "quantitative", "scale": {"domain": [0.4, 90.6], "nice": false, "zero": false}, "axis": {"grid": true, "tickCount": 90, "labels": false, "ticks": false, "domain": false, "gridColor": "#ebebeb", "title": null}}},
              "layer": [
                {"mark": {"type": "bar", "size": 4.5, "orient": "vertical"},
                 "encoding": {
                   "y": {"field": "v", "type": "quantitative", "stack": null, "scale": {"domain": [-10.33, 3.57], "nice": false, "zero": false},
                         "axis": {"values": [-10, -7.5, -5, -2.5, 0, 2.5], "labelExpr": "abs(datum.value) % 5 == 0 ? toString(datum.value) : ''",
                                  "tickOpacity": {"condition": {"test": "abs(datum.value) % 5 != 0", "value": 0}, "value": 1},
                                  "gridColor": {"condition": {"test": "abs(datum.value) % 5 != 0", "value": "#f4f4f4"}, "value": "#e6e6e6"},
                                  "title": "log2FoldChange", "titleFontSize": 29.5, "titleAngle": -90, "titleX": -67, "titleY": 143, "titleAlign": "center", "titleBaseline": "middle"}},
                   "color": {"condition": {"test": "datum.v > 0", "value": "#191970"}, "value": "#9acd52"}}},
                {"mark": {"type": "bar", "size": 1, "opacity": 0, "orient": "vertical"},
                 "encoding": {"y": {"field": "v", "type": "quantitative", "stack": null, "scale": {"domain": [-10.33, 3.57], "nice": false, "zero": false},
                   "axis": {"orient": "right", "labels": false, "ticks": false, "grid": false, "domain": true, "domainColor": "#d9d9d9", "domainWidth": 21, "offset": 11,
                            "title": "FGFR2", "titleAngle": 90, "titleFontSize": 20.5, "titleColor": "#1a1a1a", "titleX": 0, "titleY": 66, "titleAlign": "center", "titleBaseline": "middle"}}}}
              ],
              "resolve": {"axis": {"y": "independent"}}
            },
            {
              "width": 812, "height": 131.7,
              "data": {"name": "bars"},
              "transform": [{"filter": "datum.g === 'FGFR3'"}],
              "encoding": {"x": {"field": "p", "type": "quantitative", "scale": {"domain": [0.4, 90.6], "nice": false, "zero": false}, "axis": {"grid": true, "tickCount": 90, "labels": false, "ticks": false, "domain": false, "gridColor": "#ebebeb", "title": null}}},
              "layer": [
                {"mark": {"type": "bar", "size": 4.5, "orient": "vertical"},
                 "encoding": {
                   "y": {"field": "v", "type": "quantitative", "stack": null, "scale": {"domain": [-10.33, 3.57], "nice": false, "zero": false},
                         "axis": {"values": [-10, -7.5, -5, -2.5, 0, 2.5], "labelExpr": "abs(datum.value) % 5 == 0 ? toString(datum.value) : ''",
                                  "tickOpacity": {"condition": {"test": "abs(datum.value) % 5 != 0", "value": 0}, "value": 1},
                                  "gridColor": {"condition": {"test": "abs(datum.value) % 5 != 0", "value": "#f4f4f4"}, "value": "#e6e6e6"}, "title": null}},
                   "color": {"condition": {"test": "datum.v > 0", "value": "#191970"}, "value": "#9acd52"}}},
                {"mark": {"type": "bar", "size": 1, "opacity": 0, "orient": "vertical"},
                 "encoding": {"y": {"field": "v", "type": "quantitative", "stack": null, "scale": {"domain": [-10.33, 3.57], "nice": false, "zero": false},
                   "axis": {"orient": "right", "labels": false, "ticks": false, "grid": false, "domain": true, "domainColor": "#d9d9d9", "domainWidth": 21, "offset": 11,
                            "title": "FGFR3", "titleAngle": 90, "titleFontSize": 20.5, "titleColor": "#1a1a1a", "titleX": 0, "titleY": 66, "titleAlign": "center", "titleBaseline": "middle"}}}}
              ],
              "resolve": {"axis": {"y": "independent"}}
            },
            {
              "width": 812, "height": 131.7,
              "data": {"name": "bars"},
              "transform": [{"filter": "datum.g === 'FGFR4'"}],
              "encoding": {"x": {"field": "p", "type": "quantitative", "scale": {"domain": [0.4, 90.6], "nice": false, "zero": false}, "axis": {"grid": true, "tickCount": 90, "labels": false, "ticks": false, "domain": false, "gridColor": "#ebebeb", "title": "patients ordered by log2FC", "titleFontSize": 29.5, "titleX": 421, "titleY": 28, "titleAlign": "center", "titleBaseline": "alphabetic"}}},
              "layer": [
                {"mark": {"type": "bar", "size": 4.5, "orient": "vertical"},
                 "encoding": {
                   "y": {"field": "v", "type": "quantitative", "stack": null, "scale": {"domain": [-10.33, 3.57], "nice": false, "zero": false},
                         "axis": {"values": [-10, -7.5, -5, -2.5, 0, 2.5], "labelExpr": "abs(datum.value) % 5 == 0 ? toString(datum.value) : ''",
                                  "tickOpacity": {"condition": {"test": "abs(datum.value) % 5 != 0", "value": 0}, "value": 1},
                                  "gridColor": {"condition": {"test": "abs(datum.value) % 5 != 0", "value": "#f4f4f4"}, "value": "#e6e6e6"}, "title": null}},
                   "color": {"condition": {"test": "datum.v > 0", "value": "#191970"}, "value": "#9acd52"}}},
                {"mark": {"type": "bar", "size": 1, "opacity": 0, "orient": "vertical"},
                 "encoding": {"y": {"field": "v", "type": "quantitative", "stack": null, "scale": {"domain": [-10.33, 3.57], "nice": false, "zero": false},
                   "axis": {"orient": "right", "labels": false, "ticks": false, "grid": false, "domain": true, "domainColor": "#d9d9d9", "domainWidth": 21, "offset": 11,
                            "title": "FGFR4", "titleAngle": 90, "titleFontSize": 20.5, "titleColor": "#1a1a1a", "titleX": 0, "titleY": 66, "titleAlign": "center", "titleBaseline": "middle"}}}}
              ],
              "resolve": {"axis": {"y": "independent"}}
            },
            {
              "width": 840, "height": 120,
              "view": {"stroke": null},
              "layer": [
                {"data": {"name": "leg1"}, "mark": {"type": "point", "filled": true, "opacity": 0},
                 "encoding": {"color": {"field": "grp", "type": "nominal", "scale": {"domain": ["Tumour", "Normal"], "range": ["#F8766D", "#00BFC4"]},
                   "legend": {"title": null, "orient": "none", "legendX": 82, "legendY": 88.9, "direction": "horizontal", "symbolType": "circle", "symbolSize": 230, "symbolOpacity": 1, "symbolStrokeWidth": 0,
                              "labelFontSize": 30, "labelFont": "DejaVu Sans", "labelColor": "#000000", "labelOffset": 0.5, "columnPadding": 10.5, "padding": 0, "labelLimit": 300}}}},
                {"data": {"name": "leg2"}, "mark": {"type": "point", "filled": true, "opacity": 0},
                 "encoding": {"color": {"field": "dir", "type": "nominal", "scale": {"domain": ["Down", "Up"], "range": ["#9acd52", "#191970"]},
                   "legend": {"title": null, "orient": "none", "legendX": 522, "legendY": 86.4, "direction": "horizontal", "symbolType": "M-0.6,-1L0.6,-1L0.6,1L-0.6,1Z", "symbolSize": 900, "symbolOpacity": 0.68, "symbolStrokeWidth": 0,
                              "labelFontSize": 30, "labelFont": "DejaVu Sans", "labelColor": "#000000", "labelOffset": 6, "columnPadding": 3, "padding": 0, "labelLimit": 300}}}}
              ],
              "resolve": {"scale": {"color": "independent"}, "legend": {"color": "independent"}}
            }
          ]
        }
      ]
    }
  ]
}
